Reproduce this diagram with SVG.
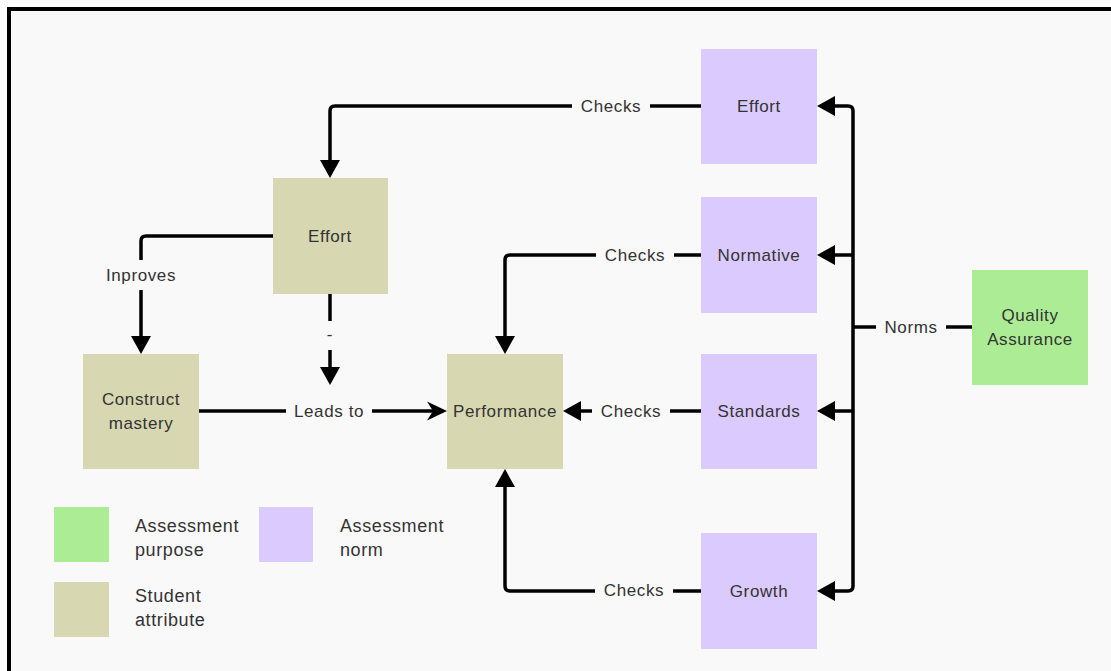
<svg xmlns="http://www.w3.org/2000/svg" width="1111" height="671" viewBox="0 0 1111 671">
  <defs>
    <style>
      .attr { fill: #d7d7b1; }
      .norm { fill: #dbcafd; }
      .purpose { fill: #acec95; }
      .txt { font-family: "Liberation Sans", Arial, sans-serif; font-size: 17px; letter-spacing: 0.6px; fill: #333333; text-anchor: middle; }
      .leg { font-family: "Liberation Sans", Arial, sans-serif; font-size: 18px; letter-spacing: 0.6px; fill: #333333; }
      .wire { fill: none; stroke: #000000; stroke-width: 3.5; }
      .head { fill: #000000; }
      .lblbg { fill: #f9f9f9; }
    </style>
  </defs>

  <!-- page -->
  <rect x="0" y="0" width="1111" height="671" fill="#ffffff"/>
  <rect x="9" y="9" width="1112" height="672" fill="#f9f9f9" stroke="#000000" stroke-width="4"/>

  <!-- connectors -->
  <g id="connectors">
    <!-- Effort norm checks Effort attribute -->
    <path class="wire" d="M701,106 H335 Q330,106 330,111 V162"/>
    <polygon class="head" points="320,160 340,160 330,178"/>
    <rect class="lblbg" x="572" y="94" width="78" height="24"/>
    <text class="txt" x="611" y="112">Checks</text>

    <!-- Normative checks Performance -->
    <path class="wire" d="M701,255 H510 Q505,255 505,260 V338"/>
    <polygon class="head" points="495,336 515,336 505,354"/>
    <rect class="lblbg" x="596" y="243" width="78" height="24"/>
    <text class="txt" x="635" y="261">Checks</text>

    <!-- Standards checks Performance -->
    <path class="wire" d="M701,411 H579"/>
    <polygon class="head" points="581,401 581,421 563,411"/>
    <rect class="lblbg" x="592" y="399" width="78" height="24"/>
    <text class="txt" x="631" y="417">Checks</text>

    <!-- Growth checks Performance -->
    <path class="wire" d="M701,591 H510 Q505,591 505,586 V485"/>
    <polygon class="head" points="495,487 515,487 505,469"/>
    <rect class="lblbg" x="595" y="578" width="78" height="24"/>
    <text class="txt" x="634" y="596">Checks</text>

    <!-- Quality Assurance norms -->
    <path class="wire" d="M972,327 H853"/>
    <path class="wire" d="M833,106 H848 Q853,106 853,111 V586 Q853,591 848,591 H833"/>
    <path class="wire" d="M833,255 H853 M833,411 H853"/>
    <polygon class="head" points="835,96 835,116 817,106"/>
    <polygon class="head" points="835,245 835,265 817,255"/>
    <polygon class="head" points="835,401 835,421 817,411"/>
    <polygon class="head" points="835,581 835,601 817,591"/>
    <rect class="lblbg" x="876" y="315" width="70" height="24"/>
    <text class="txt" x="911" y="333">Norms</text>

    <!-- Effort improves Construct mastery -->
    <path class="wire" d="M273,236 H146 Q141,236 141,241 V338"/>
    <polygon class="head" points="131,336 151,336 141,354"/>
    <rect class="lblbg" x="98" y="260" width="86" height="30"/>
    <text class="txt" x="141" y="281">Inproves</text>

    <!-- Effort down -->
    <path class="wire" d="M330,294 V369"/>
    <polygon class="head" points="320,367 340,367 330,385"/>
    <rect class="lblbg" x="320" y="321" width="20" height="29"/>
    <text class="txt" x="330" y="340">-</text>

    <!-- Construct mastery leads to Performance -->
    <path class="wire" d="M199,411 H436"/>
    <path class="head" d="M447,411 L427,401.5 L433,411 L427,420.5 Z"/>
    <rect class="lblbg" x="286" y="399" width="86" height="24"/>
    <text class="txt" x="329" y="417">Leads to</text>
  </g>

  <!-- assessment norms -->
  <g id="norm-effort">
    <rect class="norm" x="701" y="49" width="116" height="115"/>
    <text class="txt" x="759" y="112">Effort</text>
  </g>
  <g id="norm-normative">
    <rect class="norm" x="701" y="197" width="116" height="116"/>
    <text class="txt" x="759" y="261">Normative</text>
  </g>
  <g id="norm-standards">
    <rect class="norm" x="701" y="354" width="116" height="115"/>
    <text class="txt" x="759" y="417">Standards</text>
  </g>
  <g id="norm-growth">
    <rect class="norm" x="701" y="533" width="116" height="116"/>
    <text class="txt" x="759" y="597">Growth</text>
  </g>

  <!-- assessment purpose -->
  <g id="quality-assurance">
    <rect class="purpose" x="972" y="270" width="116" height="115"/>
    <text class="txt" x="1030" y="321">Quality</text>
    <text class="txt" x="1030" y="345">Assurance</text>
  </g>

  <!-- student attributes -->
  <g id="attr-effort">
    <rect class="attr" x="273" y="178" width="115" height="116"/>
    <text class="txt" x="330" y="242">Effort</text>
  </g>
  <g id="construct-mastery">
    <rect class="attr" x="83" y="354" width="116" height="115"/>
    <text class="txt" x="141" y="405">Construct</text>
    <text class="txt" x="141" y="429">mastery</text>
  </g>
  <g id="performance">
    <rect class="attr" x="447" y="354" width="116" height="115"/>
    <text class="txt" x="505" y="417">Performance</text>
  </g>

  <!-- legend -->
  <g id="legend">
    <rect class="purpose" x="54" y="507" width="55" height="55"/>
    <text class="leg" x="135" y="532">Assessment</text>
    <text class="leg" x="135" y="556">purpose</text>
    <rect class="norm" x="259" y="507" width="54" height="55"/>
    <text class="leg" x="340" y="532">Assessment</text>
    <text class="leg" x="340" y="556">norm</text>
    <rect class="attr" x="54" y="582" width="55" height="55"/>
    <text class="leg" x="135" y="602">Student</text>
    <text class="leg" x="135" y="626">attribute</text>
  </g>
</svg>
